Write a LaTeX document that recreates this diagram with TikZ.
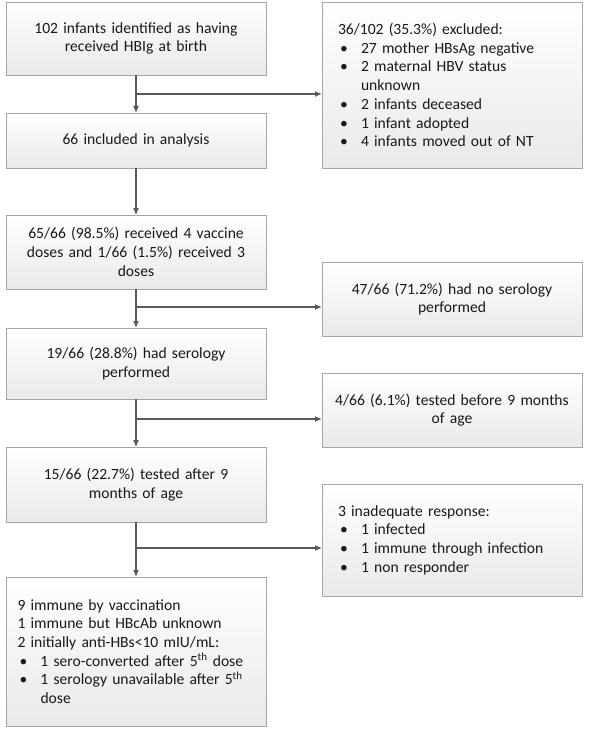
\documentclass[tikz,border=0pt]{standalone}
\usepackage{fontspec}
\setmainfont{Carlito}
\usetikzlibrary{arrows.meta,shadows}
\definecolor{boxedge}{HTML}{A6A6A6}
\definecolor{arrowcol}{HTML}{595959}
\definecolor{shadebot}{HTML}{E9E9E9}
\newcommand{\blt}{\makebox[23pt][l]{\hspace*{2pt}•}}
\tikzset{
  fbox/.style={draw=boxedge, line width=0.8pt, rectangle, outer sep=0pt, inner sep=0pt,
    top color=white, bottom color=shadebot, minimum width=260pt,
    drop shadow={shadow xshift=1.2pt, shadow yshift=-1.2pt, fill=black, opacity=0.18},
    font=\fontsize{15.6}{18.7}\selectfont, text=black!90},
  ctext/.style={align=center, text width=250pt},
  ltext/.style={align=left},
  flow/.style={draw=arrowcol, line width=1.2pt, -{Latex[length=7pt,width=6pt]}}
}
\begin{document}
\begin{tikzpicture}[x=1pt,y=-1pt]
\useasboundingbox[fill=white] (0,0) rectangle (589,730);
\node[fbox,ctext,minimum height=73pt] (b1) at (136,38.5) {102 infants identified as having\\received HBIg at birth};
\node[fbox,ltext,text width=228pt,minimum height=166pt] (e1) at (452,85) {36/102 (35.3\%) excluded:\\
\blt 27 mother HBsAg negative\\
\blt 2 maternal HBV status\\
\hspace*{23pt}unknown\\
\blt 2 infants deceased\\
\blt 1 infant adopted\\
\blt 4 infants moved out of NT};
\node[fbox,ctext,minimum height=55pt] (b2) at (136,140.5) {66 included in analysis};
\node[fbox,ctext,minimum height=74pt] (b3) at (136,252) {65/66 (98.5\%) received 4 vaccine\\doses and 1/66 (1.5\%) received 3\\doses};
\node[fbox,ctext,minimum height=74pt] (e2) at (452,299) {47/66 (71.2\%) had no serology\\performed};
\node[fbox,ctext,minimum height=71pt] (b4) at (136,363.5) {19/66 (28.8\%) had serology\\performed};
\node[fbox,ctext,minimum height=74pt] (e3) at (452,410) {4/66 (6.1\%) tested before 9 months\\of age};
\node[fbox,ctext,minimum height=75pt] (b5) at (136,484.5) {15/66 (22.7\%) tested after 9\\months of age};
\node[fbox,ltext,text width=228pt,minimum height=112pt] (e4) at (452,540) {3 inadequate response:\\
\blt 1 infected\\
\blt 1 immune through infection\\
\blt 1 non responder};
\node[fbox,ltext,text width=237pt,minimum height=149pt] (b6) at (136,651.5) {9 immune by vaccination\\
1 immune but HBcAb unknown\\
2 initially anti-HBs<10 mIU/mL:\\
\blt 1 sero-converted after 5\textsuperscript{th} dose\\
\blt 1 serology unavailable after 5\textsuperscript{th}\\
\hspace*{23pt}dose};
\coordinate (j1) at (136,94);
\coordinate (j2) at (136,307);
\coordinate (j3) at (136,419);
\coordinate (j4) at (136,548);
\draw[flow] (b1.south) -- (b2.north);
\draw[flow] (b2.south) -- (b3.north);
\draw[flow] (b3.south) -- (b4.north);
\draw[flow] (b4.south) -- (b5.north);
\draw[flow] (b5.south) -- (b6.north);
\draw[flow] (j1) -- (j1 -| e1.west);
\draw[flow] (j2) -- (j2 -| e2.west);
\draw[flow] (j3) -- (j3 -| e3.west);
\draw[flow] (j4) -- (j4 -| e4.west);
\end{tikzpicture}
\end{document}
